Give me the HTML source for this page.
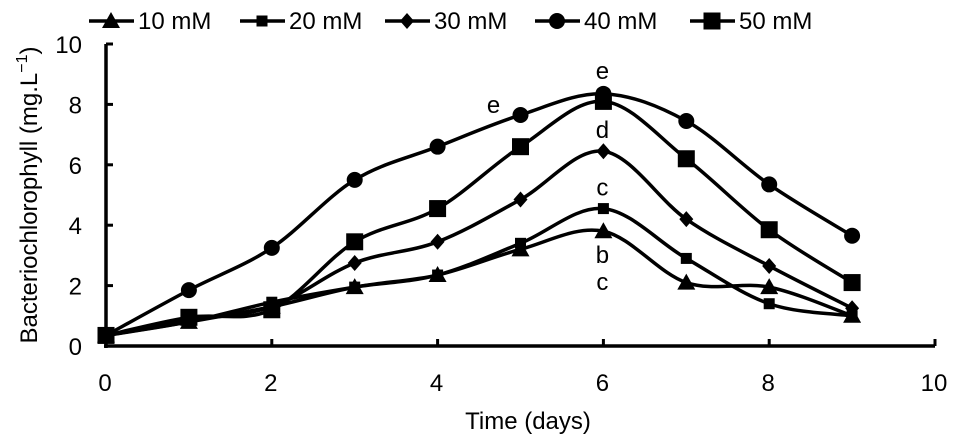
<!DOCTYPE html>
<html><head><meta charset="utf-8"><style>
body{margin:0;background:#fff;width:957px;height:439px;overflow:hidden}
text{font-family:"Liberation Sans",sans-serif;fill:#000}
</style></head><body>
<svg id="chart" width="957" height="439" viewBox="0 0 957 439" xmlns="http://www.w3.org/2000/svg"></svg>
<script>
const days=[0,1,2,3,4,5,6,7,8,9];
const s10=[0.35,0.8,1.3,1.95,2.35,3.2,3.8,2.1,1.95,1.0];
const s20=[0.35,0.8,1.45,1.95,2.35,3.4,4.55,2.9,1.4,1.0];
const s30=[0.35,0.85,1.3,2.75,3.45,4.85,6.45,4.2,2.65,1.25];
const s40=[0.35,1.85,3.25,5.5,6.6,7.65,8.35,7.45,5.35,3.65];
const s50=[0.35,0.95,1.2,3.45,4.55,6.6,8.1,6.2,3.85,2.1];
const seriesNames=["10 mM","20 mM","30 mM","40 mM","50 mM"];
const markers=["triangle","smallsquare","diamond","circle","square"];
const xTicks=[0,2,4,6,8,10];
const yTicks=[0,2,4,6,8,10];
const annotations=[{x:6,y:8.35,t:"e",dy:-15},{x:5,y:7.65,t:"e",dx:-26,dy:-2},{x:6,y:6.45,t:"d",dy:-13},{x:6,y:4.55,t:"c",dy:-13},{x:6,y:3.8,t:"b",dy:32},{x:6,y:3.8,t:"c",dy:59}];
const NS="http://www.w3.org/2000/svg";
const svg=document.getElementById('chart');
const X=v=>106+v*82.9, Y=v=>346-v*30.2;
function mk(tag,attrs,parent){const e=document.createElementNS(NS,tag);for(const k in attrs)e.setAttribute(k,attrs[k]);(parent||svg).appendChild(e);return e;}
const ax=mk('g',{});


mk('line',{x1:X(0),y1:Y(10),x2:X(0),y2:Y(0)+2,stroke:'#000','stroke-width':3.5},ax);
mk('line',{x1:X(0)-2,y1:Y(0),x2:X(10),y2:Y(0),stroke:'#000','stroke-width':3.5},ax);
xTicks.forEach(t=>{mk('line',{x1:X(t),y1:Y(0),x2:X(t),y2:Y(0)-7,stroke:'#000','stroke-width':3},ax);
 const tx=mk('text',{x:X(t)-1,y:391,'font-size':24,'text-anchor':'middle'},ax);tx.textContent=t;
 
 });
yTicks.forEach(t=>{mk('line',{x1:X(0),y1:Y(t),x2:X(0)+7,y2:Y(t),stroke:'#000','stroke-width':3},ax);
 const tx=mk('text',{x:82,y:Y(t)+9,'font-size':24,'text-anchor':'end'},ax);tx.textContent=t;
 
 });
const xt=mk('text',{x:528,y:429,'font-size':24,'text-anchor':'middle'});xt.textContent='Time (days)';


const yt=mk('text',{x:0,y:0,'font-size':24,'text-anchor':'middle',transform:'translate(37,195) rotate(-90)'});
yt.innerHTML='Bacteriochlorophyll (mg.L<tspan dy="-10" font-size="16">−1</tspan><tspan dy="10">)</tspan>';


function marker(type,cx,cy,g){
 if(type==='triangle')mk('polygon',{points:`${cx},${cy-9} ${cx-9},${cy+7} ${cx+9},${cy+7}`},g);
 else if(type==='smallsquare')mk('rect',{x:cx-5.5,y:cy-5.5,width:11,height:11},g);
 else if(type==='diamond')mk('polygon',{points:`${cx},${cy-8} ${cx+7},${cy} ${cx},${cy+8} ${cx-7},${cy}`},g);
 else if(type==='circle')mk('circle',{cx,cy,r:8},g);
 else mk('rect',{x:cx-8.5,y:cy-8.5,width:17,height:17},g);
}
function smooth(pts){let d=`M${pts[0][0]},${pts[0][1]}`;
 for(let i=0;i<pts.length-1;i++){const p0=pts[Math.max(0,i-1)],p1=pts[i],p2=pts[i+1],p3=pts[Math.min(pts.length-1,i+2)];
 d+=` C${p1[0]+(p2[0]-p0[0])/6},${p1[1]+(p2[1]-p0[1])/6} ${p2[0]-(p3[0]-p1[0])/6},${p2[1]-(p3[1]-p1[1])/6} ${p2[0]},${p2[1]}`;}return d;}
[s10,s20,s30,s40,s50].forEach((s,i)=>{
 const g=mk('g',{fill:'#000'});
 
 
 const pts=days.map((d,j)=>[X(d),Y(s[j])]);
 mk('path',{d:smooth(pts),fill:'none',stroke:'#000','stroke-width':3.5},g);
 pts.forEach(p=>marker(markers[i],p[0],p[1],g));
});
annotations.forEach(a=>{const t=mk('text',{x:X(a.x)+(a.dx||0)-1,y:Y(a.y)+a.dy,'font-size':24,'text-anchor':'middle'});t.textContent=a.t;
 
 });
const legX=[89,240,385,535,690];
seriesNames.forEach((n,i)=>{const g=mk('g',{fill:'#000'});
 
 
 mk('line',{x1:legX[i],y1:21,x2:legX[i]+45,y2:21,stroke:'#000','stroke-width':3.5},g);
 marker(markers[i],legX[i]+22,21,g);
 const t=mk('text',{x:legX[i]+49,y:29,'font-size':24},g);t.textContent=n;});
</script>
</body></html>
